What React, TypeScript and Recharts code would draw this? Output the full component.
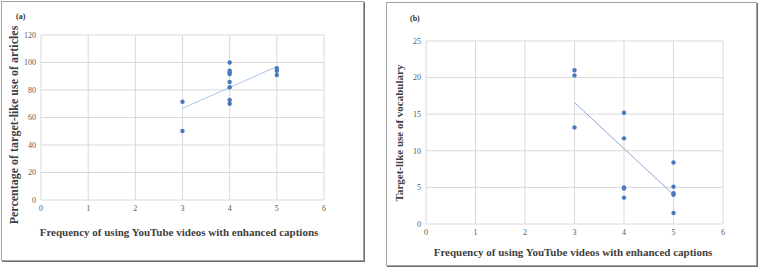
import React from "react"
import { CartesianGrid, Scatter, ScatterChart, XAxis, YAxis } from "recharts"

const FREQ_TICKS = [0, 1, 2, 3, 4, 5, 6]
const ARTICLE_TICKS = [0, 20, 40, 60, 80, 100, 120]
const VOCAB_TICKS = [0, 5, 10, 15, 20, 25]

const articlesFreq = [3, 3, 4, 4, 4, 4, 4, 4, 4, 4, 5, 5, 5]
const articlesPct = [71.5, 50.2, 100, 94, 93, 91.6, 85.8, 82, 72.7, 70, 95.8, 94, 90.9]
const articlesTrendFreq = [3, 5]
const articlesTrendPct = [66.7, 97]

const vocabFreq = [3, 3, 3, 4, 4, 4, 4, 4, 5, 5, 5, 5, 5]
const vocabScore = [21, 20.3, 13.2, 15.2, 11.7, 5, 4.85, 3.6, 8.4, 5.1, 4.2, 4.0, 1.5]
const vocabTrendFreq = [3, 5]
const vocabTrendScore = [16.6, 4.0]

const X_TITLE = "Frequency of using YouTube videos with enhanced captions"

const DOT = "#4a78c0"
const GRID = "#d9d9d9"
const TICK = "#595959"
const TITLE = "#404040"
const FONT = "'Liberation Serif', 'Times New Roman', serif"

const zip = (xs: number[], ys: number[]) => xs.map((x, i) => ({ x, y: ys[i] }))

const Dot = (p: any) => <circle cx={p.cx} cy={p.cy} r={2.2} fill={DOT} />
const NoDot = () => <g />

function Panel(props: {
  left: number
  top: number
  width: number
  height: number
  tag: string
  yTitle: string
  yTitleSize: number
  yTicks: number[]
  points: { x: number; y: number }[]
  trend: { x: number; y: number }[]
  trendColor: string
  margin: { top: number; right: number; left: number; bottom: number }
  yTitleX: number
  yTitleY: number
  xTitleX: number
  xTitleY: number
  tagX: number
  tagY: number
}) {
  const p = props
  const yMax = p.yTicks[p.yTicks.length - 1]
  return (
    <div
      style={{
        position: "absolute",
        left: p.left,
        top: p.top,
        width: p.width,
        height: p.height,
        boxSizing: "border-box",
        border: "1px solid #a3a3a3",
        boxShadow: "1px 1px 0 #6f6f6f",
        background: "#fff",
        fontFamily: FONT,
      }}
    >
      <ScatterChart width={p.width - 2} height={p.height - 2} margin={p.margin}>
        <CartesianGrid stroke={GRID} />
        <XAxis
          type="number"
          dataKey="x"
          domain={[0, 6]}
          ticks={FREQ_TICKS}
          axisLine={false}
          tickLine={false}
          tickSize={0}
          tickMargin={5}
          height={20}
          tick={{ fill: TICK, fontSize: 8, fontFamily: FONT }}
        />
        <YAxis
          type="number"
          dataKey="y"
          domain={[0, yMax]}
          ticks={p.yTicks}
          axisLine={false}
          tickLine={false}
          tickSize={0}
          tickMargin={5}
          width={p.margin.left === 0 ? 39 : 40}
          tick={{ fill: TICK, fontSize: 8, fontFamily: FONT }}
        />
        <Scatter data={p.trend} line={{ stroke: p.trendColor, strokeWidth: 1 }} shape={NoDot} isAnimationActive={false} />
        <Scatter data={p.points} shape={Dot} isAnimationActive={false} />
      </ScatterChart>
      <div
        style={{
          position: "absolute",
          left: p.tagX,
          top: p.tagY,
          fontSize: 8,
          fontWeight: "bold",
          color: "#333",
          lineHeight: "10px",
        }}
      >
        {p.tag}
      </div>
      <div
        style={{
          position: "absolute",
          left: p.xTitleX,
          top: p.xTitleY,
          transform: "translate(-50%, -50%)",
          whiteSpace: "nowrap",
          fontSize: 11,
          fontWeight: "bold",
          color: TITLE,
        }}
      >
        {X_TITLE}
      </div>
      <div
        style={{
          position: "absolute",
          left: p.yTitleX,
          top: p.yTitleY,
          transform: "translate(-50%, -50%) rotate(-90deg)",
          whiteSpace: "nowrap",
          fontSize: p.yTitleSize,
          fontWeight: "bold",
          color: TITLE,
        }}
      >
        {p.yTitle}
      </div>
    </div>
  )
}

export default function App() {
  return (
    <div style={{ position: "absolute", left: 0, top: 0, width: 759, height: 267, background: "#fff" }}>
      <Panel
        left={1}
        top={1}
        width={363}
        height={260}
        tag="(a)"
        yTitle="Percentage of target-like use of articles"
        yTitleSize={12}
        yTicks={ARTICLE_TICKS}
        points={zip(articlesFreq, articlesPct)}
        trend={zip(articlesTrendFreq, articlesTrendPct)}
        trendColor="#a9c8ea"
        margin={{ top: 33, right: 39, left: 0, bottom: 40 }}
        yTitleX={12}
        yTitleY={123}
        xTitleX={177}
        xTitleY={230}
        tagX={14}
        tagY={10}
      />
      <Panel
        left={386}
        top={2}
        width={371}
        height={264}
        tag="(b)"
        yTitle="Target-like use of vocabulary"
        yTitleSize={11}
        yTicks={VOCAB_TICKS}
        points={zip(vocabFreq, vocabScore)}
        trend={zip(vocabTrendFreq, vocabTrendScore)}
        trendColor="#8ea9d6"
        margin={{ top: 38, right: 33, left: 0, bottom: 21 }}
        yTitleX={12}
        yTitleY={130}
        xTitleX={186}
        xTitleY={249}
        tagX={23}
        tagY={11}
      />
    </div>
  )
}
